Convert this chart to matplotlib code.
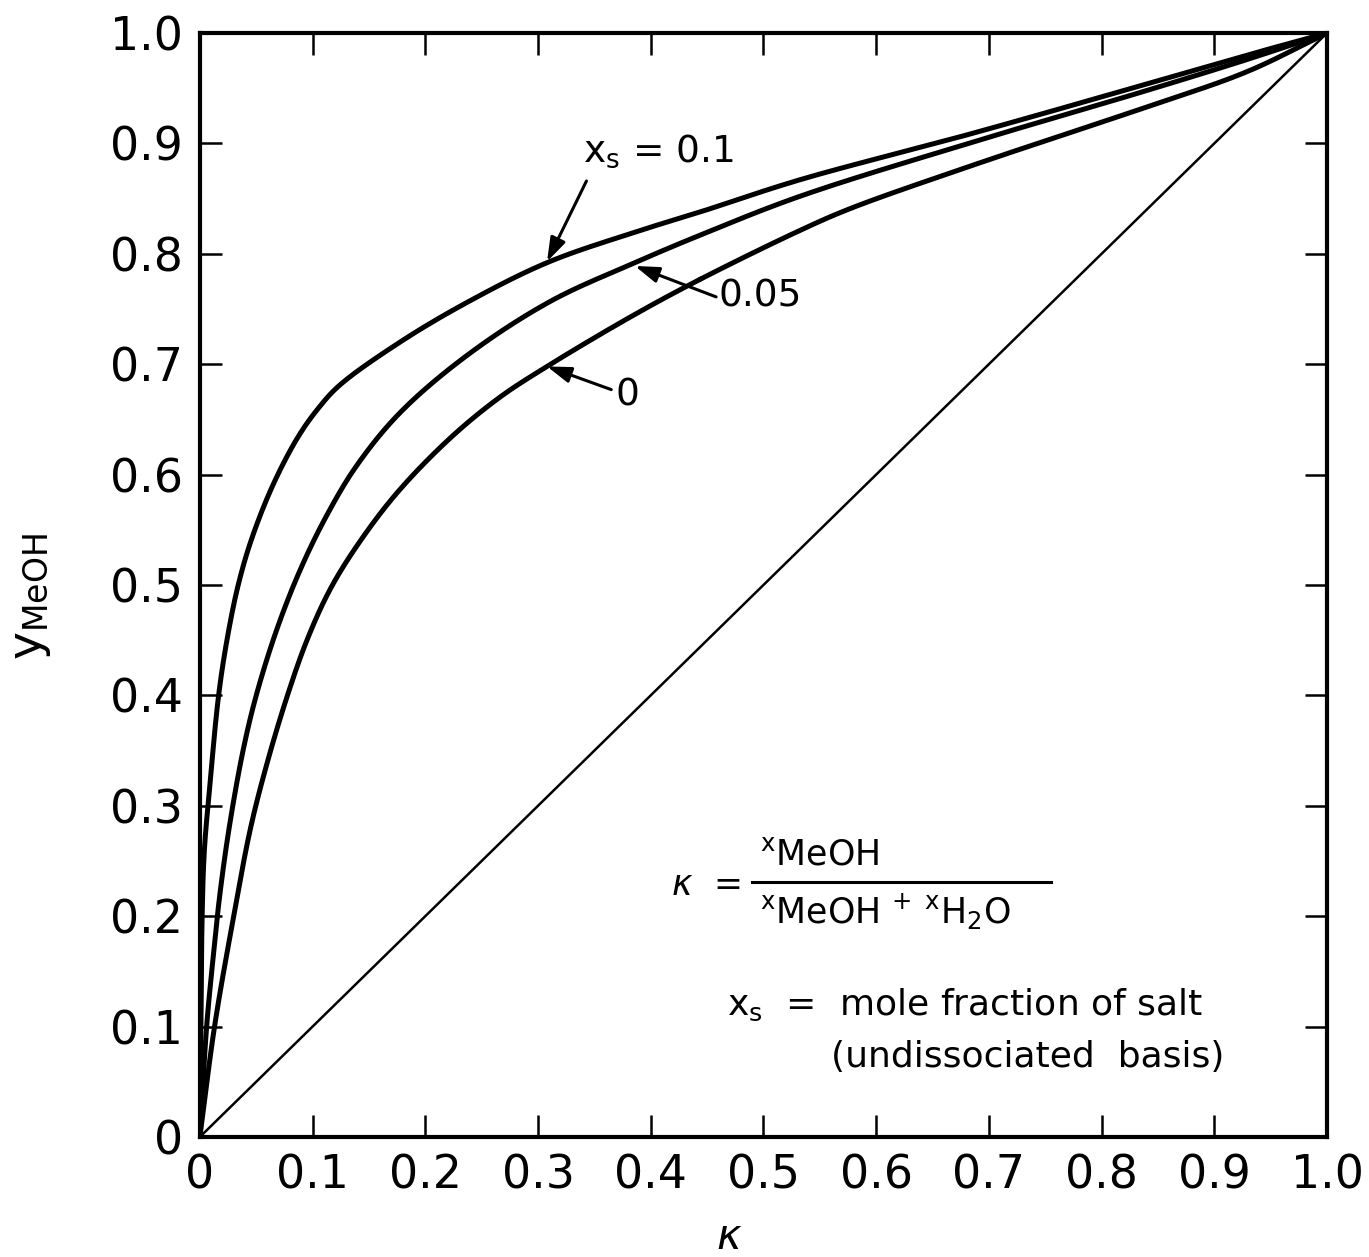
import numpy as np
import matplotlib
matplotlib.use("Agg")
import matplotlib.pyplot as plt

plt.rcParams['font.family'] = ['DejaVu Sans']
plt.rcParams['mathtext.default'] = 'regular'

# values (kappa, y_MeOH)
k_01 = [0, 0.001, 0.002, 0.004, 0.009, 0.0165, 0.024, 0.034, 0.046, 0.065, 0.087,
        0.105, 0.124, 0.1775, 0.237, 0.308, 0.384, 0.444, 0.532, 0.685, 0.837, 0.929, 1.0]
y_01 = [0, 0.1, 0.2, 0.26, 0.32, 0.399, 0.45, 0.50, 0.542, 0.591, 0.634,
        0.660, 0.681, 0.720, 0.756, 0.792, 0.819, 0.838, 0.867, 0.909, 0.953, 0.980, 1.0]

k_005 = [0, 0.006, 0.012, 0.018, 0.0266, 0.0385, 0.050, 0.068, 0.0887, 0.112, 0.139,
         0.1775, 0.237, 0.311, 0.386, 0.444, 0.532, 0.685, 0.837, 0.929, 1.0]
y_005 = [0, 0.1, 0.165, 0.222, 0.284, 0.351, 0.400, 0.459, 0.513, 0.562, 0.608,
         0.656, 0.708, 0.757, 0.792, 0.817, 0.852, 0.901, 0.947, 0.976, 1.0]

k_0 = [0, 0.013, 0.030, 0.045, 0.060, 0.0777, 0.095, 0.115, 0.139, 0.1745, 0.222,
       0.266, 0.308, 0.384, 0.444, 0.532, 0.577, 0.685, 0.837, 0.929, 1.0]
y_0 = [0, 0.1, 0.2, 0.28, 0.34, 0.40, 0.45, 0.495, 0.535, 0.583, 0.633,
       0.670, 0.698, 0.744, 0.777, 0.821, 0.841, 0.880, 0.932, 0.965, 1.0]

ticks = np.round(np.arange(0, 1.01, 0.1), 1)
tick_labels = ['0', '0.1', '0.2', '0.3', '0.4', '0.5', '0.6', '0.7', '0.8', '0.9', '1.0']


def smooth(xs, ys, n=25):
    # centripetal catmull-rom through the read points
    P = np.column_stack([xs, ys]).astype(float)
    Q = np.vstack([2 * P[0] - P[1], P, 2 * P[-1] - P[-2]])
    out = []
    for i in range(len(P) - 1):
        p0, p1, p2, p3 = Q[i], Q[i + 1], Q[i + 2], Q[i + 3]
        t0 = 0.0
        t1 = t0 + np.linalg.norm(p1 - p0) ** 0.5
        t2 = t1 + np.linalg.norm(p2 - p1) ** 0.5
        t3 = t2 + np.linalg.norm(p3 - p2) ** 0.5
        t = np.linspace(t1, t2, n)[:, None]
        A1 = (t1 - t) / (t1 - t0) * p0 + (t - t0) / (t1 - t0) * p1
        A2 = (t2 - t) / (t2 - t1) * p1 + (t - t1) / (t2 - t1) * p2
        A3 = (t3 - t) / (t3 - t2) * p2 + (t - t2) / (t3 - t2) * p3
        B1 = (t2 - t) / (t2 - t0) * A1 + (t - t0) / (t2 - t0) * A2
        B2 = (t3 - t) / (t3 - t1) * A2 + (t - t1) / (t3 - t1) * A3
        C = (t2 - t) / (t2 - t1) * B1 + (t - t1) / (t2 - t1) * B2
        out.append(C)
    C = np.vstack(out)
    return C[:, 0], C[:, 1]


fig = plt.figure(figsize=(13.69, 12.57), dpi=100)
ax = fig.add_axes([0.146, 0.0955, 0.8233, 0.8782])

for kx, ky in [(k_01, y_01), (k_005, y_005), (k_0, y_0)]:
    sx, sy = smooth(kx, ky)
    ax.plot(sx, sy, color='black', lw=3.6, solid_capstyle='round')

# 45 degree line
ax.plot([0, 1], [0, 1], color='black', lw=1.8)

ax.set_xlim(0, 1)
ax.set_ylim(0, 1)
ax.set_xticks(ticks)
ax.set_yticks(ticks)
ax.set_xticklabels(tick_labels)
ax.set_yticklabels(tick_labels)
ax.tick_params(direction='in', length=16, width=1.8, top=True, right=True,
               labelsize=33, pad=12)
for s in ax.spines.values():
    s.set_linewidth(3)

ax.set_ylabel(r'$y_{MeOH}$', fontsize=34)
ax.yaxis.set_label_coords(-0.13, 0.49)
ax.set_xlabel(r'$\mathit{\kappa}$', fontsize=30)
ax.xaxis.set_label_coords(0.47, -0.072)

# curve labels
arrow = dict(arrowstyle='-|>,head_length=0.9,head_width=0.3', mutation_scale=16,
             color='black', lw=2.2, shrinkA=0, shrinkB=0)
ax.text(0.34, 0.893, r'$x_s$ = 0.1', fontsize=27, ha='left', va='center')
ax.annotate('', xy=(0.308, 0.793), xytext=(0.343, 0.866), arrowprops=arrow)
ax.text(0.46, 0.761, '0.05', fontsize=27, ha='left', va='center')
ax.annotate('', xy=(0.386, 0.789), xytext=(0.458, 0.761), arrowprops=arrow)
ax.text(0.369, 0.672, '0', fontsize=27, ha='left', va='center')
ax.annotate('', xy=(0.308, 0.698), xytext=(0.365, 0.677), arrowprops=arrow)

# definition of kappa
ax.text(0.418, 0.228, r'$\mathit{\kappa}$  =', fontsize=25, ha='left', va='center')
ax.text(0.497, 0.256, r'$^{x}$MeOH', fontsize=25, ha='left', va='center')
ax.plot([0.490, 0.755], [0.231, 0.231], color='black', lw=2.2)
ax.text(0.497, 0.204, r'$^{x}$MeOH $^{+}$ $^{x}$H$_2$O', fontsize=25, ha='left', va='center')
ax.text(0.468, 0.12, r'$x_s$  =  mole fraction of salt', fontsize=26, ha='left', va='center')
ax.text(0.56, 0.072, '(undissociated  basis)', fontsize=26, ha='left', va='center')

fig.savefig('out.png', dpi=100)
